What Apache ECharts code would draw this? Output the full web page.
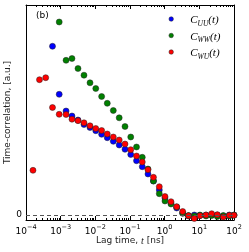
<!DOCTYPE html>
<html><head><meta charset="utf-8">
<script src="https://cdn.jsdelivr.net/npm/echarts@6/dist/echarts.min.js"></script>
<style>html,body{margin:0;padding:0;background:#fff}#c{width:249px;height:252px}</style>
</head><body><div id="c"></div>
<script>
// Lag times (ns)
const lagTimes = [1.59e-4, 2.45e-4, 3.70e-4, 5.81e-4, 9.08e-4, 1.43e-3, 2.12e-3, 3.16e-3, 4.71e-3, 7.02e-3,
  1.03e-2, 1.52e-2, 2.21e-2, 3.30e-2, 4.88e-2, 7.18e-2, 0.105, 0.154, 0.226, 0.330,
  0.475, 0.700, 1.02, 1.52, 2.22, 3.31, 4.86, 7.15, 10.4, 15.6,
  22.7, 33.0, 49.1, 73.1, 100];
const cUU = [null, null, null, 168.7, 120.7, 104, 99, 95, 90.5, 87.5,
  84.3, 80.7, 77.3, 73.7, 70, 65.7, 60.5, 54.3, 48.3, 41,
  34, 25, 17, 12, 7, 2, -1, 0, -0.5, 0,
  0, 0, -1, 0, 0];
const cWW = [null, null, null, null, 193, 154.7, 156.5, 146.5, 139.8, 132.2,
  126.5, 118.5, 111.7, 104.5, 97.2, 88.5, 78, 68, 57.7, 46,
  34, 21.3, 14, 11, 8, 1.7, -0.5, -1, 0, -1,
  -0.5, -1.5, -0.5, -1, 0];
const cWU = [44.7, 135.3, 137.3, 107.5, 100.7, 100.5, 95.8, 94.3, 92.2, 89.2,
  86.5, 84.5, 81, 78, 75, 71, 65.3, 59, 53, 45.3,
  37.7, 28.3, 18.5, 13.3, 8.3, 3.5, -0.7, -3.5, -0.7, 0,
  1.3, 0.3, -2, -0.3, -0.3];
const seriesNames = ['C_UU', 'C_WW', 'C_WU'];
const subscripts = ['UU', 'WW', 'WU'];
const colors = ['#0000ff', '#008000', '#ff0000'];
const xMin = 1e-4, xMax = 1e2;
const yMin = -5, yMax = 210;
const yTickValues = [0];

function pairs(ys) { return lagTimes.map((t, i) => [t, ys[i]]).filter(p => p[1] !== null); }
const sup = v => {
  const e = Math.round(Math.log10(v));
  return '{b|10}{s|' + (e < 0 ? '\u2212' + (-e) : e) + '}';
};
const chart = echarts.init(document.getElementById('c'), null, {renderer: 'canvas'});
const axisLine = {show: true, onZero: false, lineStyle: {color: '#000', width: 1}};
const font = 'DejaVu Sans';
const scatterStyle = c => ({color: c, borderColor: '#222', borderWidth: 0.5, opacity: 1});
const allData = [cUU, cWW, cWU];
chart.setOption({
  animation: false,
  grid: {left: 26, right: 15, top: 5, bottom: 32, containLabel: false, outerBoundsMode: 'none'},
  legend: {
    data: seriesNames, orient: 'vertical', left: 163.7, top: 10,
    itemWidth: 28, itemHeight: 4.5, itemGap: 3.5,
    itemStyle: {borderWidth: 0.5, borderColor: '#222'},
    formatter: n => '{c|C}{s|' + subscripts[seriesNames.indexOf(n)] + '}{c|(t)}',
    textStyle: {
      rich: {
        c: {fontFamily: 'Liberation Serif', fontStyle: 'italic', fontSize: 11, color: '#000', verticalAlign: 'bottom', lineHeight: 14},
        s: {fontFamily: 'Liberation Serif', fontStyle: 'italic', fontSize: 7.5, color: '#000', verticalAlign: 'bottom', lineHeight: 14, padding: [0, 0, -2, 0]}
      }
    }
  },
  xAxis: [{
    type: 'log', min: xMin, max: xMax, logBase: 10,
    name: '{n|Lag time, }{i|t}{n| [ns]}', nameLocation: 'middle', nameGap: 16, nameMoveOverlap: false,
    nameTextStyle: {rich: {
      n: {fontFamily: font, fontSize: 9, color: '#222'},
      i: {fontFamily: 'Liberation Serif', fontStyle: 'italic', fontSize: 10, color: '#222'}
    }},
    axisLine: axisLine,
    axisTick: {show: true, inside: true, length: 4, lineStyle: {color: '#000'}},
    minorTick: {show: true, splitNumber: 9, length: 2, lineStyle: {color: '#000'}},
    splitLine: {show: false},
    axisLabel: {margin: 4, formatter: sup, rich: {
      b: {fontFamily: font, fontSize: 9, color: '#000', verticalAlign: 'bottom'},
      s: {fontFamily: font, fontSize: 6.5, color: '#000', verticalAlign: 'bottom', padding: [0, 0, 5, 0]}
    }}
  }, {
    type: 'log', min: xMin, max: xMax, logBase: 10, position: 'top',
    axisLine: axisLine,
    axisTick: {show: true, inside: true, length: 4, lineStyle: {color: '#000'}},
    minorTick: {show: true, splitNumber: 9, length: 2, lineStyle: {color: '#000'}},
    splitLine: {show: false}, axisLabel: {show: false}
  }],
  yAxis: [{
    type: 'value', min: yMin, max: yMax,
    name: 'Time-correlation, [a.u.]', nameLocation: 'middle', nameGap: 14, nameMoveOverlap: false,
    nameTextStyle: {fontFamily: font, fontSize: 9, color: '#222'},
    axisLine: axisLine,
    axisTick: {show: true, inside: true, length: 4, customValues: yTickValues, lineStyle: {color: '#000'}},
    axisLabel: {customValues: yTickValues, fontFamily: font, fontSize: 9, color: '#000', margin: 4},
    splitLine: {show: false}
  }, {
    type: 'value', min: yMin, max: yMax, position: 'right',
    axisLine: axisLine,
    axisTick: {show: true, inside: true, length: 4, customValues: yTickValues, lineStyle: {color: '#000'}},
    axisLabel: {show: false}, splitLine: {show: false}
  }],
  graphic: [{type: 'text', left: 36, top: 11, style: {text: '(b)', font: '9px "DejaVu Sans"', fill: '#000'}}],
  series: [{
    type: 'line', name: 'zero', data: [], silent: true,
    markLine: {silent: true, symbol: 'none', label: {show: false},
      lineStyle: {type: [4, 3], color: '#555', width: 1}, data: [{yAxis: 0}]}
  }].concat(seriesNames.map((n, i) => ({
    type: 'scatter', name: n, data: pairs(allData[i]), symbol: 'circle', symbolSize: 6,
    itemStyle: scatterStyle(colors[i]), clip: false
  })))
});
</script></body></html>
